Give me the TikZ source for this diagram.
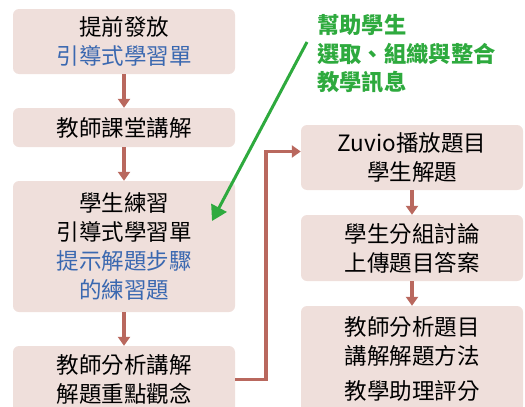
\documentclass[tikz,border=0pt]{standalone}
\usepackage{fontspec}
\setmainfont{Noto Sans CJK TC}
\usetikzlibrary{arrows.meta}
\definecolor{boxfill}{HTML}{EFDFDB}
\definecolor{arrowc}{HTML}{B9685E}
\definecolor{bluet}{HTML}{3A68B0}
\definecolor{greent}{HTML}{2EAA3E}
\tikzset{
  stepbox/.style={fill=boxfill, draw=none, rounded corners=6pt, minimum width=222pt, inner sep=0pt, align=center, font=\fontsize{22.5}{29}\selectfont},
  flow/.style={draw=arrowc, line width=3.5pt, -{Triangle[width=12pt,length=9pt]}},
  hint/.style={draw=greent, line width=3pt, -{Triangle[width=17pt,length=15pt]}}
}
\begin{document}
\begin{tikzpicture}[x=1pt,y=-1pt]
\useasboundingbox (0,0) rectangle (525,407);
\clip (0,0) rectangle (525,407);
\node[stepbox, minimum height=65pt] (b1) at (124,41.5) {提前發放\\\textcolor{bluet}{引導式學習單}};
\node[stepbox, minimum height=39pt] (b2) at (124,127.5) {教師課堂講解};
\node[stepbox, minimum height=131pt] (b3) at (124,246.5) {學生練習\\引導式學習單\\\textcolor{bluet}{提示解題步驟}\\\textcolor{bluet}{的練習題}};
\node[stepbox, minimum height=67pt] (b4) at (124,379.5) {教師分析講解\\解題重點觀念};
\node[stepbox, minimum height=65pt] (b5) at (412,157.5) {Zuvio播放題目\\學生解題};
\node[stepbox, minimum height=66pt] (b6) at (412,248) {學生分組討論\\上傳題目答案};
\node[stepbox, minimum height=106pt] (b7) at (412,359) {教師分析題目\\講解解題方法\\[6pt]教學助理評分};
\node[anchor=west, inner sep=0pt, align=left, text=greent, font=\fontsize{22.3}{28.5}\selectfont\bfseries] (note) at (317,54) {幫助學生\\選取、組織與整合\\教學訊息};
\coordinate (gs) at (307,42);
\coordinate (ge) at (212,221);
\draw[flow] (b1) -- (b2);
\draw[flow] (b2) -- (b3);
\draw[flow] (b3) -- (b4);
\draw[flow] (b5) -- (b6);
\draw[flow] (b6) -- (b7);
\draw[flow, rounded corners=0pt] (b4.east) -- (266,379.5) |- ([yshift=6pt]b5.west);
\draw[hint] (gs) -- (ge);
\end{tikzpicture}
\end{document}
